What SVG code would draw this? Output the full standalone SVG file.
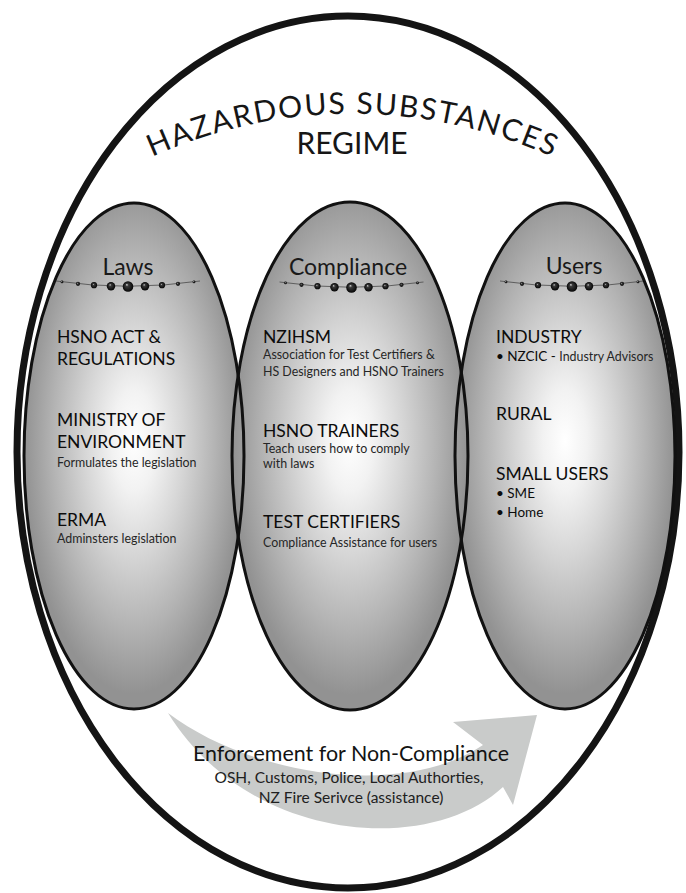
<svg xmlns="http://www.w3.org/2000/svg" xmlns:xlink="http://www.w3.org/1999/xlink" width="686" height="893" viewBox="0 0 686 893">
  <style>
    text { font-family: Lato, "Noto Sans", "Liberation Sans", sans-serif; }
    .title { font-size: 30px; fill: #161616; }
    .head { font-size: 23px; fill: #1a1a1a; text-anchor: middle; }
    .item { font-size: 17.5px; fill: #0c0c0c; }
    .note { font-size: 12.4px; fill: #262626; }
    .bullet { font-size: 13.5px; fill: #0c0c0c; }
    .fill { fill: url(#bubble); stroke: none; }
    .outline { fill: none; stroke: #111; stroke-width: 3; }
    .frame { fill: #fff; stroke: #141414; stroke-width: 7; }
    .flow { fill: #c9cbca; }
    .enf { font-size: 20.5px; text-anchor: middle; fill: #131313; }
    .enf-sub { font-size: 15.5px; text-anchor: middle; fill: #202020; }
    .chain-line { fill: none; stroke: #555; stroke-width: 0.9; }
    .bead { fill: url(#beadShine); }
  </style>
  <defs>
    <radialGradient id="bubble" cx="0.5" cy="0.47" r="0.5">
      <stop offset="0" stop-color="#ffffff"/>
      <stop offset="0.2" stop-color="#f2f2f2"/>
      <stop offset="0.45" stop-color="#d6d6d6"/>
      <stop offset="0.74" stop-color="#b3b3b3"/>
      <stop offset="1" stop-color="#929292"/>
    </radialGradient>
    <radialGradient id="beadShine" cx="0.5" cy="0.5" r="0.5" fx="0.38" fy="0.32">
      <stop offset="0" stop-color="#d8d8d8"/>
      <stop offset="0.28" stop-color="#3a3a3a"/>
      <stop offset="1" stop-color="#050505"/>
    </radialGradient>
    <ellipse id="eLaws" cx="134" cy="456" rx="110" ry="253"/>
    <ellipse id="eCompliance" cx="350" cy="456" rx="118" ry="254"/>
    <ellipse id="eUsers" cx="565" cy="456" rx="110" ry="253"/>
    <!-- beaded divider under each heading, centred on the middle bead -->
    <g id="beads">
      <path class="chain-line" d="M -72,-5.5 Q 0,5 72,-5.5"/>
      <circle class="bead" cx="0" cy="0" r="5.3"/>
      <circle class="bead" cx="-17" cy="-0.3" r="4.2"/>
      <circle class="bead" cx="17" cy="-0.3" r="4.2"/>
      <circle class="bead" cx="-34" cy="-1.3" r="3.1"/>
      <circle class="bead" cx="34" cy="-1.3" r="3.1"/>
      <circle class="bead" cx="-50" cy="-2.7" r="2.1"/>
      <circle class="bead" cx="50" cy="-2.7" r="2.1"/>
      <circle class="bead" cx="-66" cy="-4.6" r="1.4"/>
      <circle class="bead" cx="66" cy="-4.6" r="1.4"/>
    </g>
    <path id="titleArc" d="M 70,204 A 486,486 0 0 1 634,204"/>
  </defs>

  <rect width="686" height="893" fill="#ffffff"/>

  <!-- outer regime boundary with arched title -->
  <g id="regime">
    <ellipse class="frame" cx="348" cy="452" rx="331" ry="436"/>
    <text class="title"><textPath xlink:href="#titleArc" href="#titleArc" startOffset="50%" text-anchor="middle" textLength="412" lengthAdjust="spacing">HAZARDOUS SUBSTANCES</textPath></text>
    <text class="title" x="352" y="154" text-anchor="middle">REGIME</text>
  </g>

  <!-- sweeping enforcement arrow -->
  <g id="connectors">
    <path class="flow" d="M 168,713 C 250,775 400,800 483,745 L 453,722 L 537,715 L 513,805 L 503,787 C 430,855 250,845 168,713 Z"/>
  </g>

  <g id="laws">
    <use xlink:href="#eLaws" href="#eLaws" class="fill"/>
    <text class="head" x="128" y="275">Laws</text>
    <use xlink:href="#beads" href="#beads" transform="translate(128,286.5)"/>
    <text class="item" x="57" y="343">HSNO ACT &amp;</text>
    <text class="item" x="57" y="365">REGULATIONS</text>
    <text class="item" x="57" y="426">MINISTRY OF</text>
    <text class="item" x="57" y="448">ENVIRONMENT</text>
    <text class="note" x="57" y="467">Formulates the legislation</text>
    <text class="item" x="57" y="526">ERMA</text>
    <text class="note" x="57" y="543">Adminsters legislation</text>
  </g>

  <g id="users">
    <use xlink:href="#eUsers" href="#eUsers" class="fill"/>
    <text class="head" x="574" y="274">Users</text>
    <use xlink:href="#beads" href="#beads" transform="translate(572,286.5)"/>
    <text class="item" x="496" y="343">INDUSTRY</text>
    <text x="496" y="361"><tspan class="bullet">• NZCIC - </tspan><tspan class="note" font-size="11.8px">Industry Advisors</tspan></text>
    <text class="item" x="496" y="420">RURAL</text>
    <text class="item" x="496" y="480">SMALL USERS</text>
    <text class="bullet" x="496" y="498">• SME</text>
    <text class="bullet" x="496" y="517">• Home</text>
  </g>

  <g id="compliance">
    <use xlink:href="#eCompliance" href="#eCompliance" class="fill"/>
    <text class="head" x="348" y="275">Compliance</text>
    <use xlink:href="#beads" href="#beads" transform="translate(351.5,287.5)"/>
    <text class="item" x="263" y="343">NZIHSM</text>
    <text class="note" x="263" y="359">Association for Test Certifiers &amp;</text>
    <text class="note" x="263" y="376">HS Designers and HSNO Trainers</text>
    <text class="item" x="263" y="437">HSNO TRAINERS</text>
    <text class="note" x="263" y="453">Teach users how to comply</text>
    <text class="note" x="263" y="468">with laws</text>
    <text class="item" x="263" y="528">TEST CERTIFIERS</text>
    <text class="note" x="263" y="547">Compliance Assistance for users</text>
  </g>

  <!-- outlines drawn last so both edges of each overlap stay visible -->
  <g id="outlines">
    <use xlink:href="#eLaws" href="#eLaws" class="outline"/>
    <use xlink:href="#eCompliance" href="#eCompliance" class="outline"/>
    <use xlink:href="#eUsers" href="#eUsers" class="outline"/>
  </g>

  <g id="enforcement">
    <text class="enf" x="351" y="761" textLength="316" lengthAdjust="spacingAndGlyphs">Enforcement for Non-Compliance</text>
    <text class="enf-sub" x="349" y="783">OSH, Customs, Police, Local Authorties,</text>
    <text class="enf-sub" x="351" y="803">NZ Fire Serivce (assistance)</text>
  </g>
</svg>
